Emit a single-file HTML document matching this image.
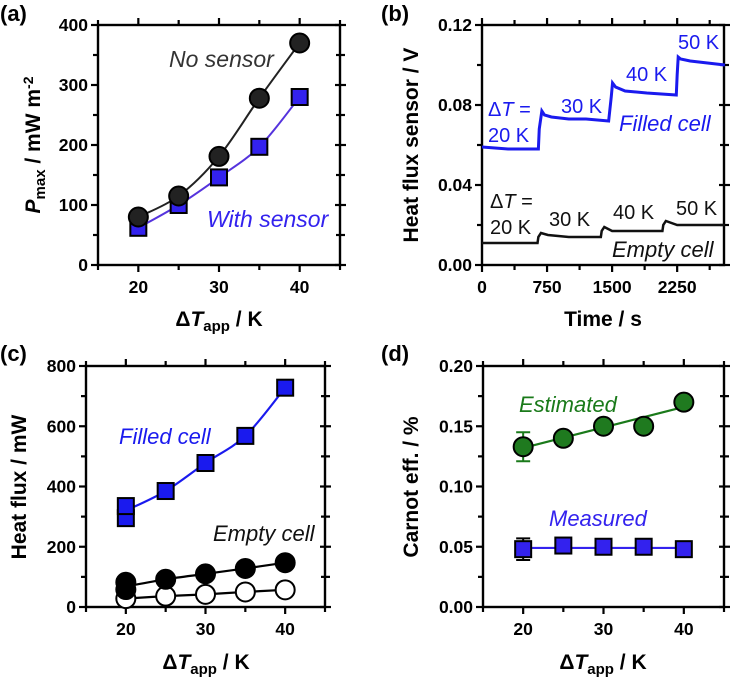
<!DOCTYPE html>
<html><head><meta charset="utf-8"><style>
html,body{margin:0;padding:0;background:#fff;}
svg{display:block;font-family:"Liberation Sans",Arial,sans-serif;}
</style></head><body>
<svg id="fig" width="734" height="679" viewBox="0 0 734 679" xmlns="http://www.w3.org/2000/svg"></svg>
<script>
// ---------- data ----------
const xCats = [20,25,30,35,40];
const aNoSensor = [80,115,181,278,370];
const aWithSensor = [62,100,146,197,280];
const bFilledT = [0,300,650,660,690,720,800,1000,1200,1460,1490,1505,1540,1650,1900,2240,2250,2262,2290,2400,2600,2800];
const bFilledV = [0.059,0.058,0.058,0.068,0.077,0.075,0.074,0.073,0.073,0.072,0.084,0.091,0.089,0.087,0.086,0.085,0.095,0.104,0.103,0.102,0.101,0.100];
const bEmptyT = [0,300,640,650,680,760,1000,1370,1380,1410,1500,1800,2080,2090,2120,2250,2500,2800];
const bEmptyV = [0.011,0.011,0.011,0.014,0.016,0.015,0.014,0.014,0.017,0.019,0.017,0.017,0.017,0.020,0.022,0.020,0.020,0.020];
const cFilled = [320,385,478,568,728];
const cFilledExtra = [295,335];
const cEmptyFilled = [68,92,110,128,147];
const cEmptyFilledExtra = [58,82];
const cEmptyOpen = [28,36,42,50,57];
const dEstimated = [0.133,0.140,0.150,0.150,0.170];
const dEstErr = [0.012,0,0,0,0];
const dEstFit = [0.132,0.166];
const dMeasured = [0.048,0.051,0.050,0.050,0.048];
const dMeasErr = [0.009,0,0,0,0];
const dMeasFit = [0.049,0.049];

const NS="http://www.w3.org/2000/svg";
const svg=document.getElementById('fig');
function mk(tag,attrs,parent){const e=document.createElementNS(NS,tag);for(const k in attrs)e.setAttribute(k,attrs[k]);(parent||svg).appendChild(e);return e;}
function txt(s,x,y,opts,parent){const t=mk('text',Object.assign({x:x,y:y,'font-size':17,'font-weight':'bold',fill:'#000'},opts||{}),parent);t.textContent=s;return t;}

function axes(cfg){
  const g=mk('g',{});
  
  
  const {L,R,T,B,xmin,xmax,ymin,ymax}=cfg;
  const sx=v=>L+(v-xmin)/(xmax-xmin)*(R-L);
  const sy=v=>B-(v-ymin)/(ymax-ymin)*(B-T);
  mk('rect',{x:L,y:T,width:R-L,height:B-T,fill:'none',stroke:'#000','stroke-width':2.4},g);
  cfg.xticks.forEach((v,i)=>{const x=sx(v);
    mk('line',{x1:x,x2:x,y1:B,y2:B+7,stroke:'#000','stroke-width':2.2},g);
    mk('line',{x1:x,x2:x,y1:T,y2:T-7,stroke:'#000','stroke-width':2.2},g);
    const t=txt(cfg.xlabels[i],x,B+28,{'text-anchor':'middle','font-size':17.5},g);
    });
  cfg.xminor.forEach(v=>{const x=sx(v);
    mk('line',{x1:x,x2:x,y1:B,y2:B+5,stroke:'#000','stroke-width':2.2},g);
    mk('line',{x1:x,x2:x,y1:T,y2:T-5,stroke:'#000','stroke-width':2.2},g);});
  cfg.yticks.forEach((v,i)=>{const y=sy(v);
    mk('line',{x1:L-7,x2:L,y1:y,y2:y,stroke:'#000','stroke-width':2.2},g);
    mk('line',{x1:R-5,x2:R+6,y1:y,y2:y,stroke:'#000','stroke-width':2.2},g);
    const t=txt(cfg.ylabels[i],L-10,y+6,{'text-anchor':'end','font-size':17.5},g);
    });
  cfg.yminor.forEach(v=>{const y=sy(v);
    mk('line',{x1:L-5,x2:L,y1:y,y2:y,stroke:'#000','stroke-width':2.2},g);
    mk('line',{x1:R-4,x2:R+5,y1:y,y2:y,stroke:'#000','stroke-width':2.2},g);});
  return {g,sx,sy};
}
function smoothPath(pts){let d=`M${pts[0][0]},${pts[0][1]}`;
  for(let i=0;i<pts.length-1;i++){const p0=pts[i-1]||pts[i],p1=pts[i],p2=pts[i+1],p3=pts[i+2]||p2;
    d+=` C${p1[0]+(p2[0]-p0[0])/6},${p1[1]+(p2[1]-p0[1])/6} ${p2[0]-(p3[0]-p1[0])/6},${p2[1]-(p3[1]-p1[1])/6} ${p2[0]},${p2[1]}`;}
  return d;}
function circle(g,x,y,fill,name){const c=mk('circle',{cx:x,cy:y,r:9.5,fill:fill,stroke:'#000','stroke-width':2},g);return c;}
function square(g,x,y,fill,name){const s=mk('rect',{x:x-8,y:y-8,width:16,height:16,fill:fill,stroke:'#000','stroke-width':2},g);return s;}
function xTitle(g,x,y){const t=txt('',x,y,{'text-anchor':'middle','font-size':21},g);
  t.innerHTML='Δ<tspan font-style="italic">T</tspan><tspan font-size="15" dy="5">app</tspan><tspan dy="-5"> / K</tspan>';
  }
function yTitle(g,x,y,html){const t=txt('',0,0,{'text-anchor':'middle','font-size':21,transform:`translate(${x},${y}) rotate(-90)`},g);
  t.innerHTML=html;}
function panelLabel(s,x,y){const t=txt(s,x,y,{'font-size':22});}

// ---------- (a) ----------
panelLabel('(a)',0,21);
let A=axes({name:'panel-a',L:98,R:340,T:25,B:265,xmin:15,xmax:45,ymin:0,ymax:400,
  xticks:[20,30,40],xlabels:['20','30','40'],xminor:[15,25,35,45],
  yticks:[0,100,200,300,400],ylabels:['0','100','200','300','400'],yminor:[50,150,250,350]});
let p=mk('path',{d:smoothPath(xCats.map((x,i)=>[A.sx(x),A.sy(aNoSensor[i])])),fill:'none',stroke:'#222','stroke-width':2},A.g);

p=mk('path',{d:smoothPath(xCats.map((x,i)=>[A.sx(x),A.sy(aWithSensor[i])])),fill:'none',stroke:'#5533dd','stroke-width':2},A.g);

xCats.forEach((x,i)=>square(A.g,A.sx(x),A.sy(aWithSensor[i]),'#3322ee','with-sensor-point'));
xCats.forEach((x,i)=>circle(A.g,A.sx(x),A.sy(aNoSensor[i]),'#222','no-sensor-point'));
let t=txt('No sensor',169,67,{'font-size':23,'font-weight':'normal','font-style':'italic',fill:'#333'},A.g);
t=txt('With sensor',207,227,{'font-size':23,'font-weight':'normal','font-style':'italic',fill:'#3322ee'},A.g);
xTitle(A.g,219,326);
yTitle(A.g,40,145,'<tspan font-style="italic">P</tspan><tspan font-size="15" dy="5">max</tspan><tspan dy="-5"> / mW m</tspan><tspan font-size="14" dy="-7">-2</tspan>');

// ---------- (b) ----------
panelLabel('(b)',381,21);
let Bp=axes({name:'panel-b',L:482,R:724,T:25,B:265,xmin:0,xmax:2790,ymin:0,ymax:0.12,
  xticks:[0,750,1500,2250],xlabels:['0','750','1500','2250'],xminor:[375,1125,1875,2625],
  yticks:[0,0.04,0.08,0.12],ylabels:['0.00','0.04','0.08','0.12'],yminor:[0.02,0.06,0.10]});
p=mk('polyline',{points:bFilledT.map((x,i)=>`${Bp.sx(x)},${Bp.sy(bFilledV[i])}`).join(' '),fill:'none',stroke:'#1a1aee','stroke-width':3},Bp.g);

p=mk('polyline',{points:bEmptyT.map((x,i)=>`${Bp.sx(x)},${Bp.sy(bEmptyV[i])}`).join(' '),fill:'none',stroke:'#111','stroke-width':2.5},Bp.g);

const bLab=[['Δ<tspan font-style="italic">T</tspan> =',488,116,'#1a1aee'],['20 K',488,142,'#1a1aee'],['30 K',561,113,'#1a1aee'],['40 K',626,81,'#1a1aee'],['50 K',678,49,'#1a1aee'],
 ['Δ<tspan font-style="italic">T</tspan> =',490,208,'#111'],['20 K',490,234,'#111'],['30 K',549,226,'#111'],['40 K',613,219,'#111'],['50 K',676,215,'#111']];
bLab.forEach(l=>{const e=txt('',l[1],l[2],{'font-size':20,'font-weight':'normal',fill:l[3]},Bp.g);e.innerHTML=l[0];});
t=txt('Filled cell',619,131,{'font-size':22,'font-weight':'normal','font-style':'italic',fill:'#1a1aee'},Bp.g);
t=txt('Empty cell',612,257,{'font-size':22,'font-weight':'normal','font-style':'italic',fill:'#111'},Bp.g);
t=txt('Time / s',603,326,{'text-anchor':'middle','font-size':21},Bp.g);
yTitle(Bp.g,418,145,'Heat flux sensor / V');

// ---------- (c) ----------
panelLabel('(c)',0,361);
let C=axes({name:'panel-c',L:86,R:325,T:366,B:607,xmin:15,xmax:45,ymin:0,ymax:800,
  xticks:[20,30,40],xlabels:['20','30','40'],xminor:[15,25,35,45],
  yticks:[0,200,400,600,800],ylabels:['0','200','400','600','800'],yminor:[100,300,500,700]});
[[cFilled,'#1a1aee','filled-cell-line'],[cEmptyFilled,'#000','empty-cell-solid-line'],[cEmptyOpen,'#000','empty-cell-open-line']].forEach(s=>{
  const e=mk('path',{d:smoothPath(xCats.map((x,i)=>[C.sx(x),C.sy(s[0][i])])),fill:'none',stroke:s[1],'stroke-width':2.2},C.g);
  });
cFilledExtra.forEach(v=>square(C.g,C.sx(20),C.sy(v),'#1a1aee','filled-cell-point'));
xCats.slice(1).forEach((x,i)=>square(C.g,C.sx(x),C.sy(cFilled[i+1]),'#1a1aee','filled-cell-point'));
xCats.forEach((x,i)=>circle(C.g,C.sx(x),C.sy(cEmptyOpen[i]),'#fff','empty-cell-open-point'));
cEmptyFilledExtra.forEach(v=>circle(C.g,C.sx(20),C.sy(v),'#000','empty-cell-solid-point'));
xCats.slice(1).forEach((x,i)=>circle(C.g,C.sx(x),C.sy(cEmptyFilled[i+1]),'#000','empty-cell-solid-point'));
t=txt('Filled cell',119,444,{'font-size':22,'font-weight':'normal','font-style':'italic',fill:'#1a1aee'},C.g);
t=txt('Empty cell',213,541,{'font-size':22,'font-weight':'normal','font-style':'italic',fill:'#111'},C.g);
xTitle(C.g,206,669);
yTitle(C.g,26,487,'Heat flux / mW');

// ---------- (d) ----------
panelLabel('(d)',381,361);
let D=axes({name:'panel-d',L:483,R:724,T:366,B:607,xmin:15,xmax:45,ymin:0,ymax:0.20,
  xticks:[20,30,40],xlabels:['20','30','40'],xminor:[15,25,35,45],
  yticks:[0,0.05,0.10,0.15,0.20],ylabels:['0.00','0.05','0.10','0.15','0.20'],yminor:[0.025,0.075,0.125,0.175]});
p=mk('line',{x1:D.sx(20),x2:D.sx(40),y1:D.sy(dEstFit[0]),y2:D.sy(dEstFit[1]),stroke:'#1a7a1a','stroke-width':2.2},D.g);

p=mk('line',{x1:D.sx(20),x2:D.sx(40),y1:D.sy(dMeasFit[0]),y2:D.sy(dMeasFit[1]),stroke:'#3322ee','stroke-width':2.2},D.g);

function errBar(g,x,v,e,col){if(!e)return;const y1=D.sy(v-e),y2=D.sy(v+e);
  const b=mk('path',{d:`M${x},${y1}V${y2}M${x-7},${y1}H${x+7}M${x-7},${y2}H${x+7}`,stroke:col,'stroke-width':2,fill:'none'},g);
  }
xCats.forEach((x,i)=>errBar(D.g,D.sx(x),dEstimated[i],dEstErr[i],'#1a7a1a'));
xCats.forEach((x,i)=>errBar(D.g,D.sx(x),dMeasured[i],dMeasErr[i],'#000'));
xCats.forEach((x,i)=>circle(D.g,D.sx(x),D.sy(dEstimated[i]),'#1f7a1f','estimated-point'));
xCats.forEach((x,i)=>square(D.g,D.sx(x),D.sy(dMeasured[i]),'#3322ee','measured-point'));
t=txt('Estimated',519,412,{'font-size':22,'font-weight':'normal','font-style':'italic',fill:'#1a7a1a'},D.g);
t=txt('Measured',549,526,{'font-size':22,'font-weight':'normal','font-style':'italic',fill:'#3322ee'},D.g);
xTitle(D.g,603,669);
yTitle(D.g,418,487,'Carnot eff. / %');
</script>
</body></html>
